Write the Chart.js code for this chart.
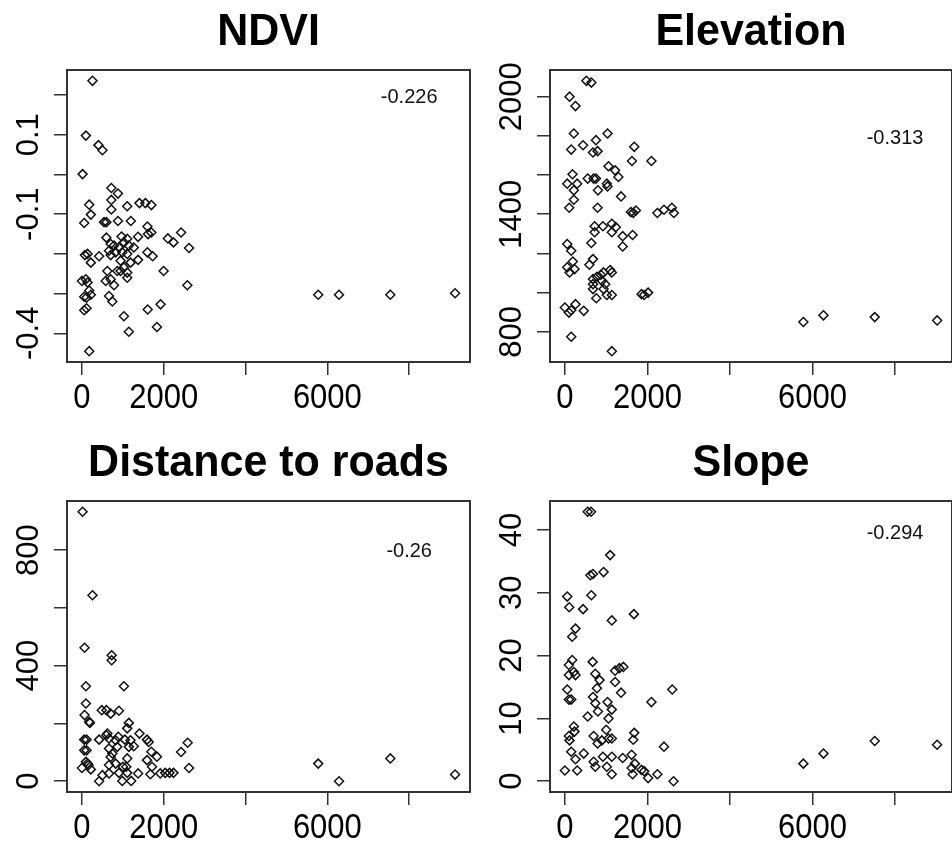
<!DOCTYPE html>
<html>
<head>
<meta charset="utf-8">
<script src="https://cdn.jsdelivr.net/npm/chart.js@4.4.1/dist/chart.umd.min.js"></script>
<style>
  html, body { margin: 0; padding: 0; background: #fff; overflow: hidden; width: 952px; height: 848px; }
  canvas { position: absolute; }
</style>
</head>
<body>
<canvas id="ndviChart" width="476" height="420" style="left:0;top:0"></canvas>
<canvas id="elevChart" width="482" height="420" style="left:476px;top:0"></canvas>
<canvas id="roadsChart" width="476" height="428" style="left:0;top:420px"></canvas>
<canvas id="slopeChart" width="482" height="428" style="left:476px;top:420px"></canvas>
<script>
// ticks shared by all panels (R drops 4000 and 8000 labels because they overlap)
const xTicks = [0, 2000, 4000, 6000, 8000];
const xTickLabels = [0, 2000, 6000];

// NDVI
const ndviX = [258, 97, 404, 501, 16, 719, 881, 719, 178, 719, 1107, 1406, 1551, 1697, 218, 56, 541, 598, 881, 1196,
  1600, 1697, 2424, 2101, 2238, 598, 969, 1107, 1373, 1616, 2618, 703, 784, 905, 1026, 1147, 1268, 662, 824, 986,
  1107, 1600, 1729, 73, 137, 420, 218, 703, 945, 1188, 1373, 1026, 622, 864, 945, 1107, 1996, 0, 97, 137,
  582, 703, 784, 1107, 2577, 178, 56, 113, 218, 662, 743, 56, 113, 1026, 1608, 1923, 1834, 1147, 178, 5776,
  6285, 7539, 9122];
const ndviY = [0.236, 0.098, 0.074, 0.061, 0.001, -0.034, -0.048, -0.064, -0.076, -0.088, -0.080, -0.072, -0.072, -0.077, -0.101, -0.122, -0.120, -0.120, -0.117, -0.117,
  -0.131, -0.146, -0.146, -0.161, -0.171, -0.159, -0.156, -0.162, -0.157, -0.150, -0.185, -0.175, -0.179, -0.184, -0.171, -0.179, -0.184, -0.192, -0.196, -0.196,
  -0.200, -0.196, -0.206, -0.203, -0.200, -0.206, -0.222, -0.203, -0.217, -0.222, -0.215, -0.234, -0.243, -0.243, -0.243, -0.247, -0.243, -0.268, -0.264, -0.272,
  -0.268, -0.264, -0.279, -0.260, -0.279, -0.292, -0.308, -0.310, -0.303, -0.306, -0.320, -0.342, -0.337, -0.357, -0.340, -0.327, -0.384, -0.396, -0.445, -0.303,
  -0.303, -0.303, -0.299];
const ndviTicks = [-0.4, -0.3, -0.2, -0.1, 0, 0.1, 0.2];
const ndviTickLabels = [-0.4, -0.1, 0.1];

// Elevation
const elevX = [521, 641, 113, 257, 217, 1033, 153, 441, 753, 681, 793, 1681, 1625, 2097, 1057, 1217, 1297, 185, 57, 297,
  553, 697, 753, 1017, 1033, 217, 801, 217, 1361, 105, 793, 1601, 1657, 1721, 2241, 2401, 2593, 2641, 721, 921,
  1137, 1137, 1233, 721, 1401, 1641, 1401, 641, 57, 153, 193, 57, 113, 233, 593, 681, 1097, 1137, 681, 777,
  873, 937, 681, 897, 977, 681, 937, 761, 1017, 1137, 1857, 1921, 2017, 0, 97, 257, 153, 457, 153, 1137,
  5779, 6266, 7508, 9020];
const elevY = [2081, 2072, 2000, 1952, 1812, 1812, 1730, 1752, 1778, 1715, 1722, 1744, 1672, 1672, 1645, 1624, 1590, 1604, 1556, 1556,
  1582, 1582, 1582, 1556, 1542, 1522, 1522, 1474, 1491, 1433, 1433, 1411, 1407, 1419, 1406, 1423, 1433, 1406, 1339, 1339,
  1351, 1308, 1334, 1308, 1288, 1294, 1235, 1253, 1248, 1214, 1159, 1129, 1103, 1120, 1142, 1171, 1115, 1103, 1069, 1081,
  1091, 1103, 1043, 1060, 1043, 1018, 1018, 971, 988, 988, 992, 988, 1000, 924, 898, 941, 910, 907, 775, 701,
  850, 884, 875, 858];
const elevTicks = [800, 1000, 1200, 1400, 1600, 1800, 2000];
const elevTickLabels = [800, 1400, 2000];

// Distance to roads
const roadsX = [16, 258, 64, 727, 727, 97, 1026, 97, 64, 178, 194, 485, 598, 703, 905, 1147, 1107, 56, 113, 420,
  598, 662, 824, 889, 1050, 1188, 1406, 1592, 1632, 1268, 1147, 2585, 56, 113, 662, 743, 864, 1697, 1834, 2424,
  97, 137, 0, 218, 662, 1107, 1592, 1713, 2618, 501, 662, 905, 1107, 1373, 1673, 1915, 2036, 2141, 2238, 420,
  986, 1204, 1002, 824, 1083, 703, 622, 161, 5776, 6285, 7539, 9122];
const roadsY = [933, 644, 462, 436, 419, 329, 329, 269, 229, 206, 202, 246, 246, 234, 244, 202, 183, 144, 144, 144,
  159, 148, 142, 154, 144, 142, 165, 144, 136, 121, 119, 133, 107, 107, 113, 96, 119, 102, 85, 101,
  67, 61, 46, 41, 56, 79, 73, 50, 46, 21, 27, 29, 29, 27, 24, 27, 29, 29, 29, 0,
  1, 1, 50, 61, 50, 84, 165, 56, 61, 0, 79, 23];
const roadsTicks = [0, 200, 400, 600, 800];
const roadsTickLabels = [0, 400, 800];

// Slope
const slopeX = [553, 633, 1097, 617, 681, 937, 57, 641, 105, 441, 1673, 1137, 257, 177, 177, 673, 97, 217, 97, 257,
  737, 841, 1217, 1321, 1417, 1217, 57, 97, 153, 681, 737, 777, 1361, 2601, 2097, 1033, 801, 1137, 553, 1057,
  1001, 217, 233, 97, 113, 697, 793, 897, 1057, 1137, 1681, 1657, 2401, 153, 257, 457, 697, 737, 921, 1137,
  1401, 1617, 1697, 1617, 1857, 1921, 2017, 2241, 2633, 0, 297, 1017, 1137, 1641, 5779, 6266, 7508, 9020];
const slopeY = [42.9, 42.9, 36.0, 32.8, 33.0, 33.3, 29.4, 29.6, 27.7, 27.4, 26.6, 25.6, 24.3, 23.0, 19.3, 19.0, 18.5, 17.4, 16.9, 16.9,
  17.1, 16.1, 17.6, 18.0, 18.2, 15.8, 14.6, 13.0, 13.0, 13.4, 12.4, 14.8, 14.1, 14.6, 12.6, 12.6, 11.1, 11.4, 10.3, 10.0,
  8.2, 8.7, 7.9, 7.2, 6.5, 7.2, 6.0, 6.5, 6.8, 6.8, 7.7, 6.6, 5.5, 4.7, 3.5, 4.4, 3.1, 2.3, 3.9, 3.9,
  3.7, 4.2, 2.8, 2.1, 1.8, 1.6, 0.5, 1.1, 0.0, 1.7, 1.7, 2.3, 1.1, 1.1, 2.8, 4.4, 6.4, 5.8];
const slopeTicks = [0, 10, 20, 30, 40];
const slopeTickLabels = [0, 10, 20, 30, 40];

const FONT = '"Liberation Sans", Arial, sans-serif';

function toPoints(xs, ys) {
    return xs.map((x, i) => ({ x: x, y: ys[i] }));
}

// same as R's default axis range: data range widened by 4% on each side
function rRange(vals) {
    const lo = Math.min(...vals), hi = Math.max(...vals);
    const pad = (hi - lo) * 0.04;
    return [lo - pad, hi + pad];
}

// text a little taller than wide, like the stretched original
function tallText(ctx, s, x, y, sy) {
    ctx.save();
    ctx.translate(x, y);
    ctx.scale(1, sy);
    ctx.fillText(s, 0, 0);
    ctx.restore();
}

// box, title, rotated tick labels and the correlation number
const rPanel = {
    id: "rPanel",
    afterDraw(chart, args, o) {
        const ctx = chart.ctx, a = chart.chartArea;
        const x = chart.scales.x, y = chart.scales.y;
        ctx.save();
        ctx.strokeStyle = "#333";
        ctx.lineWidth = 2;
        ctx.strokeRect(a.left, a.top, a.right - a.left, a.bottom - a.top);

        ctx.fillStyle = "#000";
        ctx.textAlign = "center";
        ctx.textBaseline = "alphabetic";
        ctx.font = "bold 43px " + FONT;
        tallText(ctx, o.title, (a.left + a.right) / 2, a.top - 25, 1.05);

        ctx.font = "31px " + FONT;
        o.xLabels.forEach((v) => tallText(ctx, String(v), x.getPixelForValue(v), a.bottom + 46, 1.12));
        o.yLabels.forEach((v) => {
            ctx.save();
            ctx.translate(a.left - 29, y.getPixelForValue(v));
            ctx.rotate(-Math.PI / 2);
            ctx.fillText(String(v), 0, 0);
            ctx.restore();
        });

        ctx.font = "20px " + FONT;
        ctx.fillStyle = "#111";
        ctx.textBaseline = "middle";
        ctx.fillText(o.corr, x.getPixelForValue(o.corrAt[0]), y.getPixelForValue(o.corrAt[1]));
        ctx.restore();
    },
};

function makeChart(id, p) {
    const xr = rRange(p.xs), yr = rRange(p.ys);
    const tickGrid = { drawOnChartArea: false, drawTicks: true, tickLength: 13, color: "#333", lineWidth: 1.5 };
    return new Chart(document.getElementById(id), {
        type: "scatter",
        data: {
            datasets: [{
                data: toPoints(p.xs, p.ys),
                pointStyle: "rectRot",
                pointRadius: 4.5,
                pointBorderColor: "#111",
                pointBorderWidth: 1.5,
                pointBackgroundColor: "rgba(0,0,0,0)",
            }],
        },
        options: {
            responsive: false,
            animation: false,
            events: [],
            layout: { padding: { top: p.top, right: 2, left: 0, bottom: 0 } },
            plugins: {
                legend: { display: false },
                tooltip: { enabled: false },
                rPanel: { title: p.title, xLabels: xTickLabels, yLabels: p.yLabels, corr: p.corr, corrAt: p.corrAt },
            },
            scales: {
                x: {
                    type: "linear", min: xr[0], max: xr[1],
                    afterBuildTicks: (s) => { s.ticks = xTicks.map((v) => ({ value: v })); },
                    afterFit: (s) => { s.height = p.xAxisH; },
                    ticks: { display: false },
                    grid: tickGrid,
                    border: { display: false },
                },
                y: {
                    type: "linear", min: yr[0], max: yr[1],
                    afterBuildTicks: (s) => { s.ticks = p.yTicks.map((v) => ({ value: v })); },
                    afterFit: (s) => { s.width = p.yAxisW; },
                    ticks: { display: false },
                    grid: tickGrid,
                    border: { display: false },
                },
            },
        },
        plugins: [rPanel],
    });
}

makeChart("ndviChart", { xs: ndviX, ys: ndviY, yTicks: ndviTicks, yLabels: ndviTickLabels,
    title: "NDVI", corr: "-0.226", corrAt: [8000, 0.193], top: 70, xAxisH: 58, yAxisW: 67 });
makeChart("elevChart", { xs: elevX, ys: elevY, yTicks: elevTicks, yLabels: elevTickLabels,
    title: "Elevation", corr: "-0.313", corrAt: [8000, 1788], top: 70, xAxisH: 58, yAxisW: 74 });
makeChart("roadsChart", { xs: roadsX, ys: roadsY, yTicks: roadsTicks, yLabels: roadsTickLabels,
    title: "Distance to roads", corr: "-0.26", corrAt: [8000, 797], top: 81, xAxisH: 56, yAxisW: 67 });
makeChart("slopeChart", { xs: slopeX, ys: slopeY, yTicks: slopeTicks, yLabels: slopeTickLabels,
    title: "Slope", corr: "-0.294", corrAt: [8000, 39.5], top: 81, xAxisH: 56, yAxisW: 74 });
</script>
</body>
</html>
